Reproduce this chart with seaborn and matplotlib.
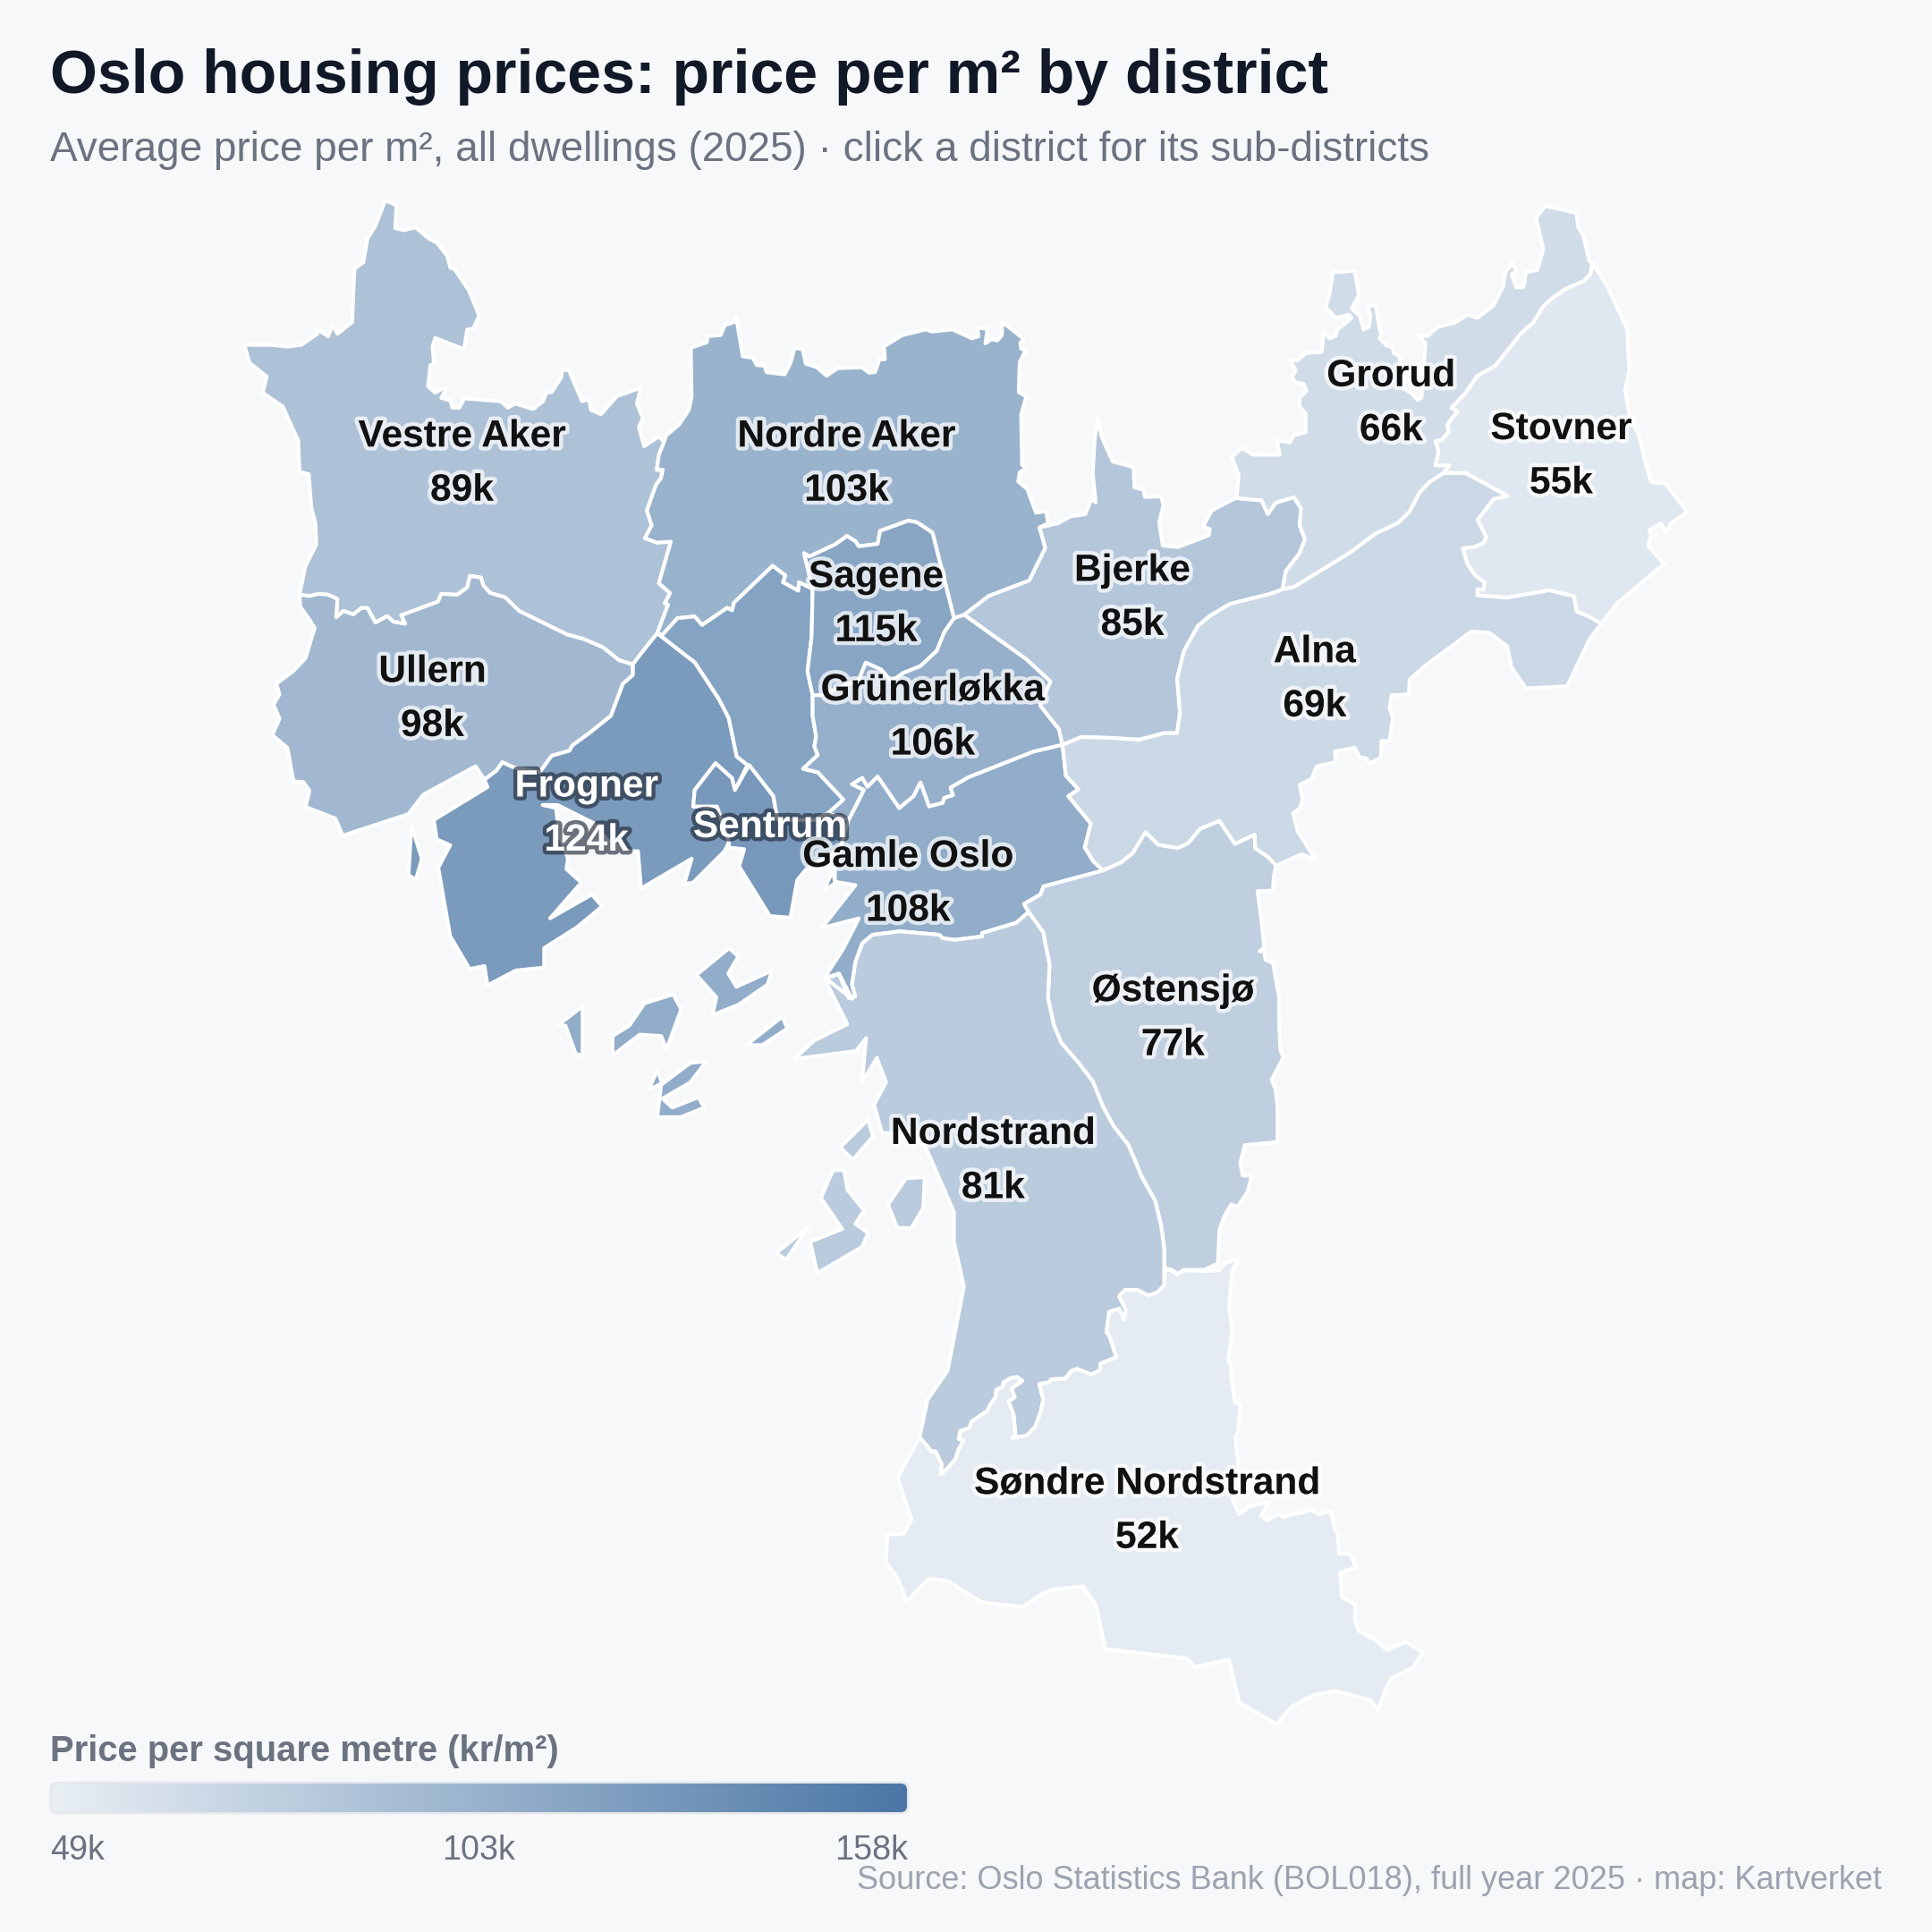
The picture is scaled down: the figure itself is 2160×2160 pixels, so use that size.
import matplotlib
matplotlib.use("Agg")
import numpy as np
import seaborn as sns
import matplotlib.pyplot as plt
from matplotlib.patches import Polygon, FancyBboxPatch
from matplotlib.colors import Normalize
import matplotlib.patheffects as pe

# ---------- data ----------
districts = ["Vestre Aker", "Nordre Aker", "Sagene", "Bjerke", "Grorud", "Stovner", "Alna", "Ullern",
             "Grünerløkka", "Frogner", "Sentrum", "Gamle Oslo", "Østensjø", "Nordstrand", "Søndre Nordstrand"]
price_k = [89, 103, 115, 85, 66, 55, 69, 98, 106, 124, None, 108, 77, 81, 52]
unlabelled_price = {"St. Hanshaugen": 117, "Sentrum": 127}
legend_ticks = [49, 103, 158]

# Digitised map sheets: origin and scale of each survey sheet in map units
SHEETS = {"O": (0, 0, 2160/1568, 2160/1568), "A": (250, 200, 700/1568, 750/1568), "B": (700, 540, 600/1568, 600/1568),
          "C": (1250, 210, 700/1568, 800/1568), "D": (600, 1000, 700/1568, 1/3), "E": (950, 1400, 700/1568, 550/1568),
          "F": (440, 820, 1/3, 1/3), "G": (1120, 900, 1/3, 560/1568), "H": (900, 340, 1/3, 1/3), "I": (1150, 440, 1/3, 1/3)}
def S(sheet, pts):
    x0, y0, sx, sy = SHEETS[sheet]
    return [(x0 + x*sx, y0 + y*sy) for x, y in pts]
R = lambda a: a[::-1]

# ---------- boundaries ----------
va_north = S("A", [(190,972),(205,905),(232,855),(230,805),(220,770),(213,690),(190,685),(187,612),(148,532),(98,500),(108,462),(65,430),(52,388),(120,388),(160,392),(195,388),(235,362),(232,350),(262,368),(272,342),(285,362),(322,335),(325,265),(328,210),(350,195),(360,140),(380,110),(405,50),(433,62),(430,115),(452,120),(480,113),(515,140),(535,150),(560,180),(568,208),(578,210),(615,262),(640,320),(625,350),(610,352),(602,398),(530,372),(523,392),(527,432),(518,435),(512,485),(530,500),(548,490),(558,490),(545,512),(568,518),(573,535),(590,535),(603,513),(695,520),(712,535),(730,525),(775,538),(800,520),(808,500),(822,498),(845,465),(848,445),(865,448),(898,520),(915,515),(920,540),(945,550),(985,508),(1045,488),(1035,525),(1050,560),(1040,580),(1053,625),(1090,602)])
va_na = S("A", [(1103,615),(1090,645),(1085,680),(1100,680),(1095,700),(1083,715),(1060,775),(1072,810),(1055,840),(1085,850),(1120,848),(1090,945),(1118,968),(1105,992),(1113,995),(1086,1062)])
j_u = S("A", [(1045,1110),(1025,1135)])
va_u = S("A", [(990,1125),(950,1095),(900,1075),(860,1065),(740,1010),(705,978),(668,968),(650,950),(645,932),(617,928),(610,955),(585,972),(545,970),(537,988),(445,1020),(455,1040),(425,1035),(410,1022),(380,1037),(360,1003),(345,1003),(325,1018),(300,1010),(282,1025),(285,982),(262,972),(238,970),(215,975)])
ull_west = S("A", [(190,972),(192,1000),(215,1030),(228,1050),(205,1120),(175,1150),(132,1180),(140,1205),(125,1228),(140,1262),(122,1300),(160,1330),(175,1408),(200,1410),(215,1430),(205,1468),(280,1495),(298,1535),(462,1485)])
ull_band = S("F", [(50,270),(100,205),(275,110)])
frog_ull = S("F", [(305,155),(345,125),(365,97),(405,115),(490,130),(505,110),(530,75),(590,58),(600,40),(655,0)]) + S("A", [(970,1255),(1000,1180),(1025,1160)])
frog_sth = S("A", [(1086,1062),(1180,1130),(1240,1215),(1265,1260),(1285,1350),(1312,1370)])
frog_sent = S("F", [(1145,190),(1135,150),(1080,100),(1010,190),(1005,245),(1085,245),(1125,365)])
frog_coast = S("F", [(1110,395),(1005,500),(975,505),(1000,420),(830,520),(820,395),(790,395),(720,360),(670,300),(550,240),(500,240),(545,250),(555,340),(585,420),(580,455),(630,500),(525,620),(665,540),(700,580),(615,650),(505,720),(505,785),(410,795),(315,845),(305,780),(255,790),(190,680),(150,450),(190,375),(145,355),(135,290),(315,180)])
sth_top = S("B", [(105,445),(150,395),(200,390),(222,415),(295,365),(310,372),(315,350),(428,242),(465,270),(458,290),(503,315),(505,290),(545,310)])
sag_top = S("B", [(520,205),(535,215),(610,180),(645,155),(670,170),(680,185),(735,178),(742,140),(825,110),(850,115),(895,145),(958,395)])
sag_west = S("B", [(545,310),(542,450),(530,550),(545,620)])
sag_bot = S("B", [(570,620),(680,575),(700,525),(745,545),(775,580),(810,555),(860,535),(908,490),(930,435),(958,395)])
sth_east = S("B", [(545,680),(555,740),(550,770),(560,795),(517,835),(560,845),(635,925),(590,965)])
sth_sent = S("B", [(550,985),(445,985),(440,975),(430,915),(360,825)])
na_north = S("A", [(1103,615),(1108,600),(1140,575),(1165,540),(1172,510),(1170,395),(1210,382),(1212,368),(1245,365),(1255,342),(1278,335),(1283,320),(1300,415),(1325,418),(1335,435),(1355,437),(1360,452),(1405,457),(1420,430),(1430,395),(1450,398),(1458,432),(1485,440),(1510,460)]) \
    + S("H", [(110,215),(190,212),(215,230),(235,228),(250,185),(268,185),(265,142),(325,105),(405,85),(425,92),(495,85),(560,115),(582,108),(578,80),(612,82),(605,132),(625,118),(645,122),(660,105),(662,60),(735,118),(722,130),(725,150),(740,155),(720,195),(717,295),(742,310),(725,370),(728,540),(742,548),(738,552),(720,565),(715,595),(745,620),(775,700),(805,695)]) \
    + S("I", [(60,400),(65,435)])
na_bj = S("B", [(1208,130),(1225,190),(1178,285),(1060,330),(988,385)])
bj_top = S("I", [(100,435),(140,412),(190,405),(210,355),(225,365),(215,265),(222,150),(232,85),(245,145),(282,228),(352,247),(355,315),(385,322),(390,347),(445,345),(452,375),(438,432),(450,510),(500,515),(580,485),(605,475),(608,455),(585,445),(615,392),(695,350)])
bj_gror = S("C", [(360,685),(375,715),(395,690),(440,678),(458,702),(455,740),(468,770),(455,800),(420,840),(412,880)])
bj_alna = S("C", [(380,890),(320,903),(280,912),(230,938),(200,960),(165,1015),(148,1075),(155,1150),(148,1195),(115,1195),(50,1210)]) + S("B", [(1500,750),(1420,745),(1330,742),(1275,765)])
bj_gru = S("B", [(1265,720),(1210,650),(1240,580),(1170,515),(1065,440),(988,385)])
gru_gam = S("B", [(1190,785),(1000,860),(948,890),(955,912),(930,920),(925,935),(885,945),(860,875),(840,915),(798,950),(735,858),(705,888),(690,862),(660,880),(695,897),(650,985)])
gam_alna = S("B", [(1285,855),(1322,895),(1292,915),(1358,995),(1340,1065),(1365,1105)]) + S("G", [(340,205)])
gam_ost = S("G", [(140,255),(130,280),(75,310),(90,335)])
gam_nord = S("B", [(1140,1285),(1040,1315),(1040,1325),(960,1335),(925,1330),(915,1320),(800,1310),(720,1320),(690,1345),(670,1400),(660,1465),(670,1500),(650,1505),(622,1435),(580,1445)])
gam_coast = S("B", [(635,1360),(680,1272),(572,1300),(670,1175),(610,1165),(610,1120)])
sent_coast = S("B", [(640,1060),(525,1130),(500,1160),(480,1270),(420,1265),(330,1120),(345,1070),(300,1065)])
gr_st = S("C", [(1188,165),(1183,190),(1165,205),(1120,222),(1090,240),(1065,260),(1040,295),(1010,318),(945,390),(900,412),(870,450),(835,482),(850,490),(825,518),(828,535),(810,553),(795,555),(803,578),(795,608),(830,608),(815,625)])
gr_alna = S("C", [(780,645),(755,668),(730,710),(700,735),(645,758),(580,800),(440,875),(412,880)])
gr_north = S("C", [(297,680),(302,630),(285,590),(310,570),(338,585),(405,585),(398,553),(430,558),(440,543),(470,535),(470,495),(455,480),(455,460),(472,445),(465,430),(443,425),(435,415),(445,400),(430,377),(450,378),(470,362),(510,360),(515,315),(530,330),(545,325),(550,310),(585,285),(578,278),(545,285),(520,262),(530,230),(538,185),(593,182),(603,235),(585,265),(605,280),(615,310),(628,305),(632,280),(625,262),(645,255),(655,310),(660,320),(655,330),(672,345),(688,350),(690,362),(705,370),(715,440),(735,450),(750,465),(760,460),(770,340),(750,322),(775,325),(800,305),(845,295),(875,278),(900,285),(940,258),(965,215),(970,185),(987,165),(998,182),(985,190),(997,218),(1015,218),(1022,185),(1050,180),(1065,135),(1047,65),(1070,40),(1148,55),(1152,85),(1165,105),(1180,160)])
st_east = S("C", [(1225,215),(1275,310),(1280,400),(1270,445),(1280,495),(1305,545),(1320,600),(1335,645),(1370,648),(1425,710),(1385,735),(1372,755),(1360,735),(1330,750),(1335,760),(1328,785),(1368,825),(1345,840),(1250,910),(1210,955)])
al_st = S("C", [(1180,940),(1148,928),(1142,895),(1080,882),(975,898),(900,893),(900,880),(915,880),(918,865),(895,850),(875,825),(863,790),(892,787),(915,778),(922,765),(900,728),(940,682),(975,675),(870,625)])
al_coast = S("C", [(1180,990),(1125,1092),(1022,1097),(985,1050),(975,1005),(930,975),(885,972),(780,1040),(765,1050),(730,1078),(728,1110),(685,1112),(680,1140),(688,1160),(680,1212),(660,1212),(658,1248),(630,1262),(622,1250),(605,1248),(593,1227),(543,1235),(545,1258),(497,1268),(485,1295),(455,1308),(462,1340),(455,1360),(438,1370),(450,1410),(495,1473),(460,1460)])
al_ost = S("G", [(920,190),(895,165),(850,135),(848,93),(782,122),(730,50),(665,75),(625,120),(590,135),(525,125),(482,85),(440,150),(400,180),(340,205)])
ost_nord = S("G", [(140,400),(145,430),(160,500),(155,605),(175,690),(200,745),(260,810),(305,865),(340,945),(375,1005),(425,1065),(470,1165),(515,1240),(535,1320),(545,1390),(545,1450)])
ost_east = S("G", [(570,1455),(590,1468),(610,1455),(680,1455),(725,1435),(730,1330),(745,1290),(770,1250),(790,1258),(825,1210),(838,1160),(808,1160),(800,1120),(815,1065),(925,1055),(925,945),(918,890),(905,860),(945,790),(935,770),(932,715),(930,680),(930,600),(918,540),(910,495),(885,485),(880,458),(865,458),(880,445),(875,400),(868,340),(858,270),(910,268),(912,225)])
nord_sn = S("E", [(788,105),(770,128),(748,138),(720,120),(690,120),(675,140),(692,185),(687,215),(675,180),(650,190),(643,255),(650,265),(668,335),(628,355),(628,375),(605,390),(570,372),(555,378),(540,403),(505,405),(498,415),(475,420),(485,470),(478,510),(465,555),(443,585),(407,592),(415,580),(410,515),(397,475),(413,462),(405,435),(432,410),(420,398),(405,400),(385,415),(383,430),(367,438),(365,462),(350,490),(345,505),(305,540),(300,560),(277,570),(273,595),(285,600),(272,630),(265,660),(240,695),(228,708),(230,675),(215,635),(205,635),(175,590)])
nord_coast = S("D", [(790,350),(757,265),(722,285),(778,435),(695,490),(645,552),(800,525),(825,482),(815,630),(852,548),(875,630),(845,705),(865,800),(960,800),(975,850),(1045,1065),(1045,1165),(1070,1315)]) + S("E", [(245,378),(195,470)])
sn_outer = S("E", [(925,58),(940,35),(975,20),(958,60),(950,170),(958,250),(948,345),(955,360),(955,400),(965,480),(978,485),(973,570),(965,590),(975,690),(970,760),(958,785),(975,835),(1003,810),(1050,795),(1030,840),(1045,855),(1075,835),(1085,845),(1110,835),(1135,830),(1155,820),(1175,835),(1205,825),(1215,885),(1222,895),(1225,960),(1253,962),(1268,1003),(1228,1022),(1232,1098),(1265,1122),(1265,1175),(1275,1208),(1315,1235),(1345,1268),(1392,1242),(1435,1275),(1410,1325),(1360,1355),(1348,1375),(1322,1460),(1305,1428),(1215,1398),(1160,1412),(1130,1432),(1105,1450),(1085,1480),(1070,1505),(975,1435),(950,1298),(865,1322),(845,1295),(800,1288),(640,1265),(618,1128),(585,1065),(510,1075),(480,1090),(435,1130),(345,1118),(330,1115),(245,1048),(198,1040),(142,1115),(132,1075),(120,1040),(90,988),(95,900),(135,897),(155,853),(120,718)])

# ---------- district rings ----------
ring_va = va_north + va_na + j_u + va_u
ring_ull = ull_west + ull_band + frog_ull + j_u[-1:] + va_u
ring_frog = frog_ull + R(j_u) + frog_sth + frog_sent + frog_coast
ring_sth = sth_top + sag_west + sth_east + sth_sent + R(frog_sth)
ring_sent = R(frog_sent) + S("F", [(1190,110)]) + R(sth_sent) + S("B", [(590,965),(650,985)]) + sent_coast
ring_sag = sag_top + R(sag_bot) + R(sag_west)
ring_na = na_north + na_bj + R(sag_top) + R(sth_top) + R(va_na)
ring_bj = R(na_bj) + bj_top + bj_gror + bj_alna + bj_gru
ring_gru = sag_bot + R(bj_gru) + bj_alna[-1:] + gru_gam + R(sth_east) + sag_west[-1:]
ring_gam = gru_gam + R(gam_coast) + R(gam_nord) + R(gam_ost) + R(gam_alna) + bj_alna[-1:]
ring_alna = bj_gror[-1:] + R(gr_alna) + S("C", [(815,625)]) + R(al_st) + st_east[-1:] + al_coast + al_ost + R(gam_alna)[1:] + R(bj_alna)
ring_gror = R(bj_gror) + gr_north + gr_st + gr_alna
ring_stov = gr_st[:1] + st_east + al_st + S("C", [(815,625)]) + R(gr_st)[1:]
ring_ost = S("G", [(340,205)]) + gam_ost + ost_nord + ost_east + al_ost
ring_nord = nord_coast + S("E", [(175,590)]) + R(nord_sn) + R(ost_nord) + S("G", [(90,335)]) + gam_nord
ring_sn = sn_outer + R(nord_sn) + S("E", [(788,55),(805,58),(820,72),(835,58),(888,60)])

islands_gamle = [S("D", p) for p in [
    [(115,375),(115,540),(98,535),(72,440),(55,437)],
    [(190,475),(190,540),(258,470),(312,475),(325,520),(362,385),(342,335),(270,365),(232,440)],
    [(400,270),(482,180),(505,208),(480,265),(500,310),(590,255),(578,303),(505,370),(440,405),(450,345)],
    [(525,505),(615,410),(628,450),(565,505)],
    [(280,655),(302,590),(315,635),(385,565),(425,560),(385,630),(315,685),(340,715),(405,680),(420,715),(360,747),(302,747),(312,635)]]]
islands_nord = [S("D", p) for p in [
    [(760,848),(830,755),(842,812),(792,890)],
    [(880,1040),(925,952),(972,948),(968,1052),(938,1120),(903,1118)],
    [(742,925),(770,925),(778,990),(820,1060),(798,1105),(830,1135),(815,1182),(703,1270),(685,1165),(765,1122),(712,1018)],
    [(600,1203),(680,1115),(625,1225)]]]
island_frog = S("F", [(60,310),(95,420),(75,490),(50,475)])
sliver_sent = S("B", [(605,1130),(578,1190),(610,1170)])

label_xy = {"Vestre Aker": (375,353), "Nordre Aker": (687,353), "Sagene": (711,467), "Bjerke": (919,462), "Grorud": (1129,304),
            "Stovner": (1267,347), "Alna": (1067,528), "Ullern": (351,544), "Grünerløkka": (757,559), "Frogner": (476,637),
            "Sentrum": (625,670), "Gamle Oslo": (737,694), "Østensjø": (952,803), "Nordstrand": (806,919), "Søndre Nordstrand": (931,1203)}

# ---------- drawing ----------
BG = "#f6f8fa"
sns.set_theme(style="white", rc={"figure.facecolor": BG, "axes.facecolor": BG})
plt.rcParams["font.family"] = ["Liberation Sans", "DejaVu Sans"]
fig = plt.figure(figsize=(10.8, 10.8), dpi=200)
ax = fig.add_axes([0, 0, 1, 1])
ax.set_xlim(0, 2160); ax.set_ylim(2160, 0); ax.axis("off")

cmap = sns.blend_palette(["#e8eef4", "#4a76a5"], as_cmap=True)
norm = Normalize(legend_ticks[0], legend_ticks[-1])
price = dict(zip(districts, price_k)); price.update(unlabelled_price)
col = lambda n: cmap(norm(price[n]))

shapes = [("Vestre Aker", [ring_va]), ("Ullern", [ring_ull]), ("Nordre Aker", [ring_na]),
          ("Frogner", [ring_frog, island_frog]), ("St. Hanshaugen", [ring_sth]), ("Sagene", [ring_sag]),
          ("Sentrum", [ring_sent, sliver_sent]), ("Grünerløkka", [ring_gru]), ("Gamle Oslo", [ring_gam] + islands_gamle),
          ("Bjerke", [ring_bj]), ("Grorud", [ring_gror]), ("Stovner", [ring_stov]), ("Alna", [ring_alna]),
          ("Østensjø", [ring_ost]), ("Nordstrand", [ring_nord] + islands_nord), ("Søndre Nordstrand", [ring_sn])]
for name, rings in shapes:
    for r in rings:
        ax.add_patch(Polygon(r, closed=True, facecolor=col(name), edgecolor="white", linewidth=1.5, joinstyle="round"))

LBL = 15.3
for name, val in zip(districts, price_k):
    x, y = label_xy[name]
    x *= 2160/1568; y *= 2160/1568
    dark = name in ("Frogner", "Sentrum")
    fc = "white" if dark else "#111111"
    halo = [pe.withStroke(linewidth=3.2, foreground="#1f2937" if dark else "white", alpha=0.65 if dark else 0.72)]
    ax.text(x, y + 2, name, ha="center", va="center", fontsize=LBL, fontweight="bold", color=fc, path_effects=halo, zorder=10)
    if val is not None:
        ax.text(x, y + 62.5, f"{val}k", ha="center", va="center", fontsize=LBL, fontweight="bold", color=fc, path_effects=halo, zorder=10)

ax.text(56, 86, "Oslo housing prices: price per m² by district", fontsize=24.5, fontweight="bold", color="#111827", va="center", ha="left")
ax.text(56, 168, "Average price per m², all dwellings (2025) · click a district for its sub-districts", fontsize=16.53, color="#6b7280", va="center", ha="left")
ax.text(56, 1958, "Price per square metre (kr/m²)", fontsize=14.4, fontweight="bold", color="#6b7280", va="center", ha="left")
ax.text(2104, 2102, "Source: Oslo Statistics Bank (BOL018), full year 2025 · map: Kartverket", fontsize=13.0, color="#9ca3af", va="center", ha="right")

# legend bar
tick_ha = ["left", "center", "right"]
tick_x = [56, 535.5, 1015]
for v, ha, tx in zip(legend_ticks, tick_ha, tick_x):
    ax.text(tx, 2069, f"{v}k", fontsize=13.6, color="#6b7280", va="center", ha=ha)
ax.add_patch(FancyBboxPatch((57, 1993), 958, 34, boxstyle="round,pad=0,rounding_size=7", facecolor="none", edgecolor="#e5e7eb", linewidth=0.9, zorder=6))
cax = fig.add_axes([56/2160, 1-2027/2160, 959/2160, 35/2160])
grad = np.linspace(legend_ticks[0], legend_ticks[-1], 400).reshape(1, -1)
sns.heatmap(grad, ax=cax, cmap=cmap, vmin=legend_ticks[0], vmax=legend_ticks[-1], cbar=False, xticklabels=False, yticklabels=False)
cax.collections[0].set_clip_path(FancyBboxPatch((58, 1994), 956, 32, boxstyle="round,pad=0,rounding_size=7", transform=ax.transData))
cax.axis("off")

fig.savefig("out.png", dpi=200, facecolor=BG)
